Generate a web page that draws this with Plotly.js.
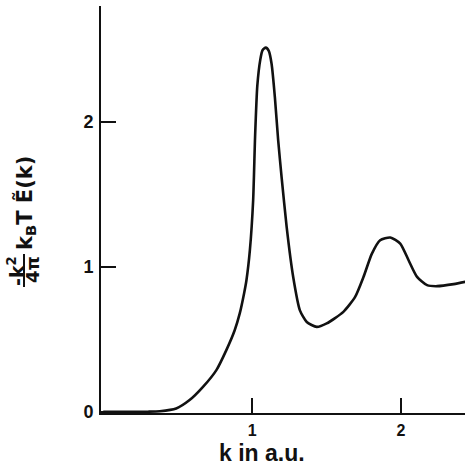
<!DOCTYPE html>
<html>
<head>
<meta charset="utf-8">
<script src="https://cdn.plot.ly/plotly-3.0.1.min.js"></script>
<style>html,body{margin:0;padding:0;background:#fff;}#chart{width:465px;height:466px;}</style>
</head>
<body>
<div id="chart"></div>
<script>
// data
const kValues = [0, 0.2, 0.3, 0.38, 0.49, 0.58, 0.67, 0.76, 0.827, 0.883, 0.917, 0.946, 0.962, 0.985, 1.007, 1.02, 1.035, 1.055, 1.07, 1.092, 1.112, 1.131, 1.153, 1.175, 1.198, 1.232, 1.276, 1.321, 1.367, 1.434, 1.501, 1.613, 1.692, 1.748, 1.804, 1.86, 1.928, 1.995, 2.051, 2.108, 2.175, 2.243, 2.354, 2.433];
const eValues = [0, 0, 0.001, 0.004, 0.023, 0.081, 0.172, 0.288, 0.426, 0.563, 0.679, 0.817, 0.908, 1.115, 1.46, 1.9, 2.25, 2.43, 2.495, 2.513, 2.49, 2.40, 2.17, 1.874, 1.62, 1.276, 0.93, 0.70, 0.62, 0.586, 0.61, 0.69, 0.793, 0.93, 1.09, 1.184, 1.203, 1.161, 1.046, 0.931, 0.874, 0.867, 0.881, 0.897];
const xTicks = [1, 2];
const xTickText = ['1', '2'];
const yTicks = [0, 1, 2];
const yTickText = ['0', '1', '2'];
const xTitle = 'k in a.u.';
const yTitleMain = 'k<sub>B</sub>T Ẽ(k)';
const yTitleNum = '-k<sup>2</sup>';
const yTitleDen = '4π';

const FONT = 'Liberation Sans, Arial, sans-serif';

const trace = {
  x: kValues, y: eValues, type: 'scatter', mode: 'lines',
  line: {color: '#111', width: 2.6, shape: 'spline', smoothing: 0.6},
  hoverinfo: 'skip', cliponaxis: false
};

const layout = {
  width: 465, height: 466,
  margin: {l: 101, r: 0, t: 6, b: 53},
  paper_bgcolor: '#fff', plot_bgcolor: '#fff',
  showlegend: false,
  xaxis: {
    range: [-0.015, 2.43], showgrid: false, zeroline: false,
    showline: true, linecolor: '#111', linewidth: 2,
    ticks: 'inside', ticklen: 15, tickwidth: 2, tickcolor: '#111',
    tickmode: 'array', tickvals: xTicks, ticktext: xTickText,
    tickfont: {family: FONT, size: 16, color: '#111', weight: 'bold'},
    ticklabelstandoff: 2
  },
  yaxis: {
    range: [-0.008, 2.8], showgrid: false, zeroline: false,
    showline: true, linecolor: '#111', linewidth: 2,
    ticks: 'inside', ticklen: 15, tickwidth: 2, tickcolor: '#111',
    tickmode: 'array', tickvals: yTicks, ticktext: yTickText,
    tickfont: {family: FONT, size: 18, color: '#111', weight: 'bold'},
    ticklabelstandoff: 2
  },
  annotations: [
    {text: xTitle, xref: 'paper', yref: 'paper', x: (261.5-101)/364, y: (413-453)/407,
     xanchor: 'center', yanchor: 'middle', showarrow: false,
     font: {family: FONT, size: 23, color: '#111', weight: 'bold'}},
    {text: yTitleMain, xref: 'paper', yref: 'paper', x: (26-101)/364, y: (413-203)/407,
     xanchor: 'center', yanchor: 'middle', showarrow: false, textangle: -90,
     font: {family: 'DejaVu Sans, sans-serif', size: 21, color: '#111', weight: 'bold'}},
    {text: yTitleNum, xref: 'paper', yref: 'paper', x: (16-101)/364, y: (413-271)/407,
     xanchor: 'center', yanchor: 'middle', showarrow: false, textangle: -90,
     font: {family: 'DejaVu Sans, sans-serif', size: 19, color: '#111', weight: 'bold'}},
    {text: yTitleDen, xref: 'paper', yref: 'paper', x: (32-101)/364, y: (413-270)/407,
     xanchor: 'center', yanchor: 'middle', showarrow: false, textangle: -90,
     font: {family: 'DejaVu Sans, sans-serif', size: 18, color: '#111', weight: 'bold'}}
  ],
  shapes: [
    {type: 'line', xref: 'paper', yref: 'paper',
     x0: (24-101)/364, x1: (24-101)/364, y0: (413-254)/407, y1: (413-287)/407,
     line: {color: '#111', width: 2}}
  ]
};

Plotly.newPlot('chart', [trace], layout, {displayModeBar: false, staticPlot: true});
</script>
</body>
</html>
